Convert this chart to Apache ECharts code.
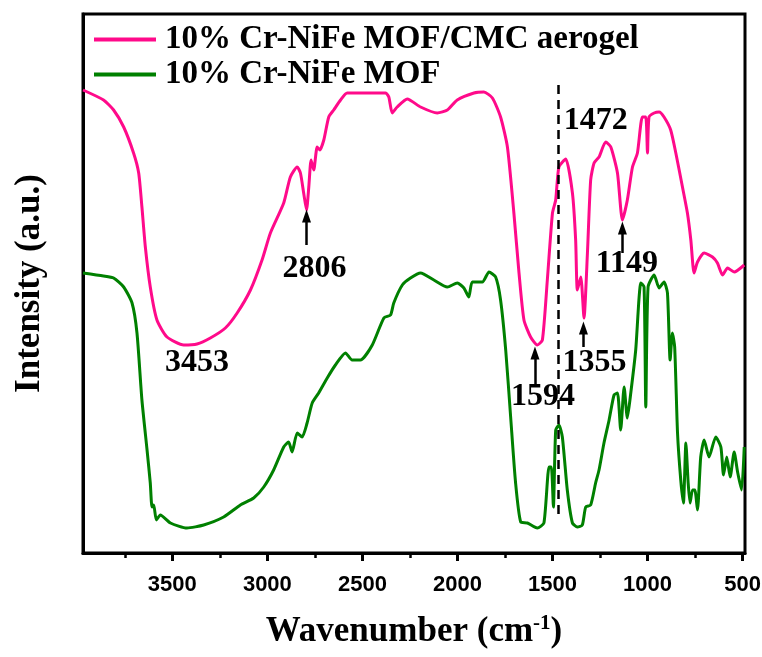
<!DOCTYPE html>
<html lang="en">
<head>
    <meta charset="UTF-8">
    <title>FTIR</title>
    <script src="https://cdn.jsdelivr.net/npm/echarts@6/dist/echarts.min.js"></script>
    <style>
        html, body { margin: 0; padding: 0; background: #fff; }
        #chart { width: 762px; height: 657px; }
    </style>
</head>
<body>
<div id="chart"></div>
<script>
    // wavenumber (cm-1), intensity (a.u.)
    var aerogelData = [
        [3970,463],[3862,453],[3809,443],[3756,426],[3704,400],[3677,380],[3660,346],[3642,306],
        [3616,266],[3581,233],[3528,216],[3440,208],[3370,209],[3300,215],[3221,225],[3159,240],
        [3089,263],[3028,293],[2984,320],[2914,350],[2879,376],[2843,386],[2826,380],[2809,360],
        [2794,343],[2782,366],[2770,393],[2756,383],[2738,406],[2724,403],[2703,413],[2677,436],
        [2651,443],[2615,453],[2580,460],[2457,460],[2378,460],[2361,456],[2343,440],[2317,446],
        [2264,454],[2194,446],[2106,440],[2053,443],[2001,453],[1913,460],[1861,461],[1816,455],
        [1773,436],[1737,406],[1703,340],[1676,280],[1650,233],[1615,216],[1580,208],[1553,213],
        [1527,273],[1500,340],[1483,353],[1466,386],[1430,394],[1395,360],[1378,313],[1369,263],
        [1351,276],[1334,235],[1316,300],[1299,373],[1281,390],[1255,396],[1220,411],[1193,406],
        [1158,380],[1132,333],[1106,353],[1079,386],[1053,400],[1027,436],[1009,436],[1000,400],
        [992,436],[965,440],[939,441],[913,436],[878,423],[851,400],[816,366],[790,340],
        [772,313],[755,280],[737,291],[702,300],[658,296],[632,290],[605,278],[579,285],
        [544,281],[491,288]
    ];
    var mofData = [
        [3970,280],[3862,277],[3809,275],[3756,266],[3712,250],[3686,220],[3660,153],[3633,103],
        [3616,70],[3607,46],[3598,48],[3584,33],[3563,38],[3510,30],[3423,25],[3335,28],
        [3230,36],[3142,48],[3072,55],[3019,66],[2967,83],[2914,106],[2888,111],[2870,101],
        [2843,120],[2817,116],[2791,130],[2764,150],[2730,160],[2685,175],[2642,188],[2589,200],
        [2554,193],[2510,193],[2448,208],[2387,235],[2352,238],[2335,250],[2290,268],[2247,275],
        [2194,280],[2124,273],[2053,266],[2001,270],[1966,265],[1940,256],[1922,271],[1869,271],
        [1834,281],[1799,276],[1773,253],[1746,203],[1720,136],[1694,70],[1667,31],[1632,30],
        [1580,25],[1545,30],[1518,86],[1506,86],[1495,46],[1483,123],[1466,128],[1448,116],
        [1422,63],[1395,30],[1369,26],[1343,28],[1325,46],[1299,48],[1273,70],[1255,83],
        [1229,110],[1202,133],[1176,158],[1158,160],[1141,123],[1123,166],[1106,135],[1088,160],
        [1062,203],[1035,270],[1018,266],[1009,146],[997,266],[965,278],[939,265],[913,271],
        [895,260],[881,193],[869,220],[857,206],[842,120],[825,73],[811,50],[798,110],
        [786,70],[776,50],[763,63],[751,63],[737,43],[720,96],[702,113],[676,96],
        [641,116],[614,106],[600,78],[583,96],[565,76],[544,101],[526,81],[505,63],[491,106]
    ];
    var majorTicks = [500, 1000, 1500, 2000, 2500, 3000, 3500];
    var minorTicks = [750, 1250, 1750, 2250, 2750, 3250, 3750];

    // peak labels: text, wavenumber, intensity
    var peakLabels = [
        ['3453', 3370, 190],
        ['2806', 2752, 284],
        ['1594', 1550, 156],
        ['1472', 1272, 432],
        ['1355', 1279, 190],
        ['1149', 1108, 289]
    ];
    // arrows: wavenumber, from intensity, to intensity
    var peakArrows = [
        [2794, 308, 337],
        [1592, 166, 200],
        [1337, 206, 225],
        [1132, 300, 325]
    ];
    var dashLine = [1467, 33, 468];

    var serif = '"Liberation Serif", "Times New Roman", serif';
    var sans = '"Liberation Sans", Arial, sans-serif';

    var arrowLines = peakArrows.map(function (a) {
        return [{coord: [a[0], a[1]]}, {coord: [a[0], a[2]]}];
    });
    var labelPoints = peakLabels.map(function (p) {
        return {coord: [p[1], p[2]], value: p[0]};
    });

    var option = {
        animation: false,
        grid: {
            left: 83, right: 17, top: 14, bottom: 104,
            containLabel: false,
            outerBoundsMode: 'none',
            show: true,
            borderColor: '#000',
            borderWidth: 3
        },
        legend: {
            orient: 'vertical',
            left: 94,
            top: 22,
            padding: 0,
            itemGap: 0,
            itemWidth: 62,
            itemHeight: 4,
            icon: 'rect',
            textStyle: {
                fontFamily: serif,
                fontWeight: 'bold',
                fontSize: 33,
                lineHeight: 35,
                color: '#000',
                padding: [0, 0, 0, 4]
            },
            data: ['10% Cr-NiFe MOF/CMC aerogel', '10% Cr-NiFe MOF']
        },
        xAxis: [
            {
                type: 'value',
                inverse: true,
                min: 487,
                max: 3970,
                position: 'bottom',
                name: '{a|Wavenumber (cm}{s|-1}{a|)}',
                nameLocation: 'middle',
                nameGap: 60,
                nameTextStyle: {
                    rich: {
                        a: {fontFamily: serif, fontWeight: 'bold', fontSize: 35, color: '#000', lineHeight: 38},
                        s: {fontFamily: serif, fontWeight: 'bold', fontSize: 21, color: '#000', verticalAlign: 'top', lineHeight: 24}
                    }
                },
                axisLine: {lineStyle: {color: '#000', width: 3}},
                axisTick: {customValues: majorTicks, length: 8, lineStyle: {color: '#000', width: 3}},
                axisLabel: {
                    customValues: majorTicks,
                    margin: 21,
                    hideOverlap: false,
                    formatter: function (v) { return String(v); },
                    fontFamily: sans,
                    fontWeight: 'bold',
                    fontSize: 22,
                    color: '#000'
                },
                splitLine: {show: false}
            },
            {
                type: 'value',
                inverse: true,
                min: 487,
                max: 3970,
                position: 'bottom',
                offset: 0,
                axisLine: {show: false},
                axisTick: {customValues: minorTicks, length: 5, lineStyle: {color: '#000', width: 2.5}},
                axisLabel: {show: false},
                splitLine: {show: false}
            }
        ],
        yAxis: {
            type: 'value',
            min: 0,
            max: 539,
            name: 'Intensity (a.u.)',
            nameLocation: 'middle',
            nameGap: 36,
            nameTextStyle: {fontFamily: serif, fontWeight: 'bold', fontSize: 35, color: '#000'},
            axisLine: {show: true, lineStyle: {color: '#000', width: 3}},
            axisTick: {show: false},
            axisLabel: {show: false},
            splitLine: {show: false}
        },
        series: [
            {
                name: '10% Cr-NiFe MOF/CMC aerogel',
                type: 'line',
                data: aerogelData,
                showSymbol: false,
                smooth: 0.2,
                lineStyle: {color: '#ff0a8a', width: 3},
                itemStyle: {color: '#ff0a8a'},
                markLine: {
                    silent: true,
                    symbol: ['none', 'triangle'],
                    symbolSize: [9, 13],
                    label: {show: false},
                    lineStyle: {color: '#000', width: 2.5, type: 'solid'},
                    data: arrowLines
                },
                markPoint: {
                    silent: true,
                    symbol: 'rect',
                    symbolSize: 1,
                    itemStyle: {color: 'rgba(0,0,0,0)'},
                    label: {
                        show: true,
                        position: 'inside',
                        formatter: '{c}',
                        fontFamily: serif,
                        fontWeight: 'bold',
                        fontSize: 32,
                        color: '#000'
                    },
                    data: labelPoints
                }
            },
            {
                name: '10% Cr-NiFe MOF',
                type: 'line',
                data: mofData,
                showSymbol: false,
                smooth: 0.2,
                lineStyle: {color: '#008000', width: 3},
                itemStyle: {color: '#008000'},
                markLine: {
                    silent: true,
                    symbol: 'none',
                    label: {show: false},
                    lineStyle: {color: '#000', width: 2.5, type: [9, 6]},
                    data: [[{coord: [dashLine[0], dashLine[2]]}, {coord: [dashLine[0], dashLine[1]]}]]
                }
            }
        ]
    };
    var myChart = echarts.init(document.getElementById('chart'));
    myChart.setOption(option);
</script>
</body>
</html>
